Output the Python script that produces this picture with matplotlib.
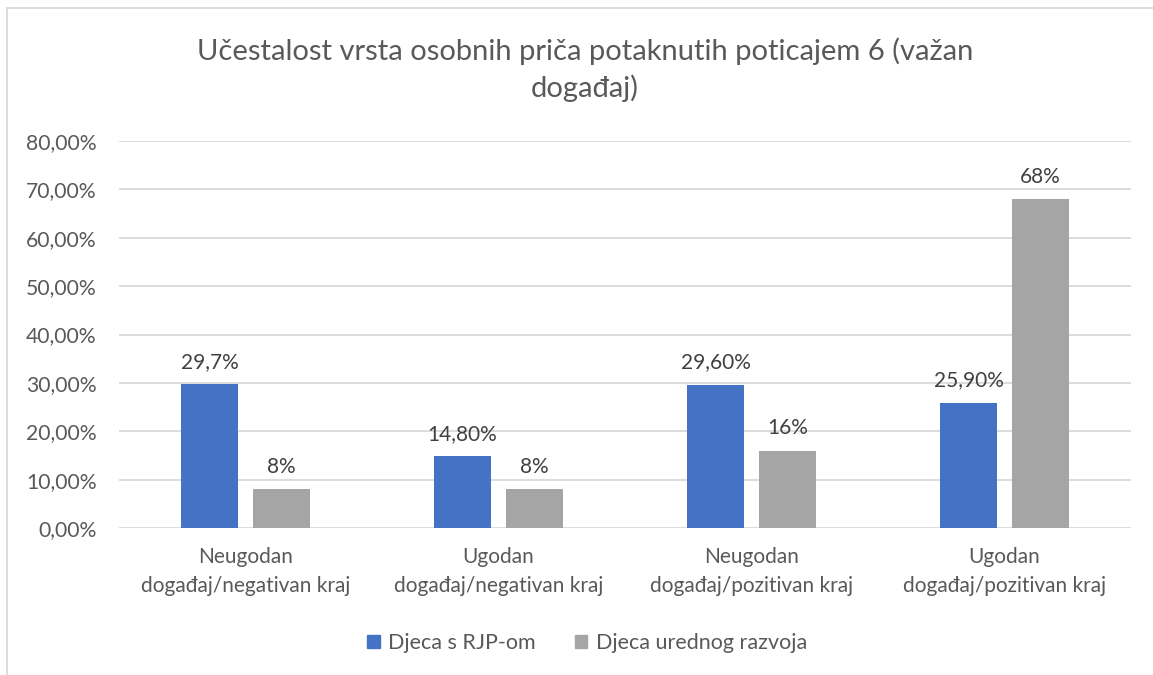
import matplotlib
matplotlib.use("Agg")
import matplotlib.pyplot as plt
from matplotlib.patches import Patch
from matplotlib.lines import Line2D

categories = ["Neugodan\ndogađaj/negativan kraj", "Ugodan\ndogađaj/negativan kraj",
              "Neugodan\ndogađaj/pozitivan kraj", "Ugodan\ndogađaj/pozitivan kraj"]
series_names = ["Djeca s RJP-om", "Djeca urednog razvoja"]
rjp = [29.7, 14.8, 29.6, 25.9]
uredni = [8, 8, 16, 68]
rjp_labels = ["29,7%", "14,80%", "29,60%", "25,90%"]
uredni_labels = ["8%", "8%", "16%", "68%"]
yticks = [0, 10, 20, 30, 40, 50, 60, 70, 80]
title = "Učestalost vrsta osobnih priča potaknutih poticajem 6 (važan\ndogađaj)"

plt.rcParams['font.family'] = ['Lato', 'DejaVu Sans']
txt = '#595959'
blue = '#4472C4'
gray = '#A5A5A5'

fig = plt.figure(figsize=(11.53, 6.75), dpi=100)
ax = fig.add_axes([119/1153, 1-528/675, (1131-119)/1153, (528-141)/675])

x = list(range(len(categories)))
w = 0.225
off = 0.142
b1 = ax.bar([i - off for i in x], rjp, width=w, color=blue, zorder=3)
b2 = ax.bar([i + off for i in x], uredni, width=w, color=gray, zorder=3)
ax.bar_label(b1, labels=rjp_labels, padding=9, fontsize=15, color='#404040')
ax.bar_label(b2, labels=uredni_labels, padding=9, fontsize=15, color='#404040')

ax.set_xlim(-0.5, len(categories) - 0.5)
ax.set_ylim(0, 80)
ax.set_yticks(yticks)
ax.set_yticklabels([f"{v:.2f}".replace('.', ',') + "%" for v in yticks])
ax.set_xticks(x)
ax.set_xticklabels(categories, linespacing=1.55)
ax.tick_params(axis='both', length=0, labelsize=15, colors=txt)
ax.tick_params(axis='y', pad=16, labelsize=15.2)
ax.tick_params(axis='x', pad=14)
ax.yaxis.grid(True, color='#D9D9D9', linewidth=1.3, zorder=0)
for s in ax.spines.values():
    s.set_visible(False)

fig.text(585/1153, 1-70/675, title, ha='center', va='center', fontsize=21,
         color=txt, linespacing=1.4)

handles = [Patch(color=blue), Patch(color=gray)]
fig.legend(handles, series_names, loc='center', bbox_to_anchor=(587/1153, 1-643/675),
           ncol=2, frameon=False, fontsize=15.5, labelcolor=txt,
           handlelength=0.6, handleheight=0.6, handletextpad=0.4, columnspacing=1.8)

# chart border (top and left)
fig.add_artist(Line2D([7/1153, 7/1153], [0, 1-8/675], transform=fig.transFigure,
                      color='#D9D9D9', linewidth=1.3))
fig.add_artist(Line2D([7/1153, 1], [1-8/675, 1-8/675], transform=fig.transFigure,
                      color='#D9D9D9', linewidth=1.3))

fig.savefig("out.png", dpi=100)
